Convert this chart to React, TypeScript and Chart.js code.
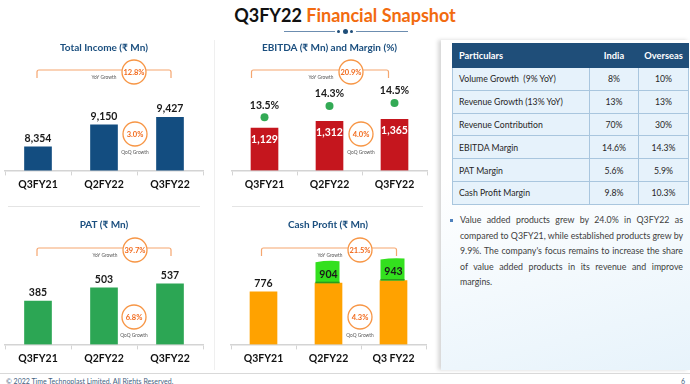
import React, { useEffect, useRef } from "react";
import { Chart, registerables } from "chart.js";
Chart.register(...registerables);

const categories = ["Q3FY21", "Q2FY22", "Q3FY22"];
const cashCategories = ["Q3FY21", "Q2FY22", "Q3 FY22"];
const totalIncome = [8354, 9150, 9427];
const ebitda = [1129, 1312, 1365];
const ebitdaMargin = [13.5, 14.3, 14.5];
const pat = [385, 503, 537];
const cashProfit = [776, 904, 943];
const yoyGrowth = ["12.8%", "20.9%", "39.7%", "21.5%"];
const qoqGrowth = ["3.0%", "4.0%", "6.8%", "4.3%"];
const panelTitles = ["Total Income (₹ Mn)", "EBITDA (₹ Mn) and Margin (%)", "PAT (₹ Mn)", "Cash Profit (₹ Mn)"];
const tableHeader = ["Particulars", "India", "Overseas"];
const tableParticulars = ["Volume Growth  (9% YoY)", "Revenue Growth (13% YoY)", "Revenue Contribution", "EBITDA Margin", "PAT Margin", "Cash Profit Margin"];
const tableIndia = ["8%", "13%", "70%", "14.6%", "5.6%", "9.8%"];
const tableOverseas = ["10%", "13%", "30%", "14.3%", "5.9%", "10.3%"];
const bulletLines = [
  "Value added products grew by 24.0% in Q3FY22 as",
  "compared to Q3FY21, while established products grew by",
  "9.9%. The company's focus remains to increase the share",
  "of value added products in its revenue and improve",
  "margins.",
];

const FONT = "Lato, 'Noto Sans', 'DejaVu Sans', sans-serif";

type PanelCfg = {
  labels: string[];
  values: number[];
  color: string;
  min: number;
  max: number;
  left: number;
  top: number;
  width: number;
  height: number;
  pad: { left: number; right: number; top: number; bottom: number };
  yoy: string;
  qoq: string;
  bracketDy: number;
  dxL: number;
  dxR: number;
  yoyDx: number;
  qoqDx: number;
  qoqDy: number;
  inside?: boolean;
  margin?: number[];
  highlight?: number[];
};

const annotPlugin = {
  id: "annot",
  afterDatasetsDraw(chart: any, _args: any, opts: any) {
    const { ctx, chartArea } = chart;
    const xs = chart.scales.x;
    const meta = chart.getDatasetMeta(0);
    const values: number[] = chart.data.datasets[0].data;
    ctx.save();
    (opts.highlight || []).forEach((i: number) => {
      const bar = meta.data[i];
      const p = bar.getProps(["x", "y", "width"], true);
      const l = p.x - p.width / 2 + 0.5;
      const w = p.width - 3;
      ctx.fillStyle = "#33e01e";
      ctx.beginPath();
      ctx.moveTo(l, p.y);
      ctx.lineTo(l, p.y - 21);
      ctx.quadraticCurveTo(l + w * 0.5, p.y - 23, l + w, p.y - 22);
      ctx.lineTo(l + w, p.y);
      ctx.closePath();
      ctx.fill();
      ctx.fillStyle = "#2a9a1e";
      ctx.fillRect(l, p.y - 1.5, w, 1.5);
    });
    ctx.textAlign = "center";
    ctx.textBaseline = "middle";
    ctx.font = `bold 10.5px ${FONT}`;
    meta.data.forEach((bar: any, i: number) => {
      const p = bar.getProps(["x", "y"], true);
      const txt = values[i].toLocaleString("en-US");
      if (opts.inside) {
        ctx.fillStyle = "#ffffff";
        ctx.fillText(txt, p.x, p.y + 11);
      } else {
        ctx.fillStyle = "#1a1a1a";
        ctx.fillText(txt, p.x, p.y - 8.5);
      }
    });
    if (opts.margin) {
      const m = chart.getDatasetMeta(1);
      const mv: number[] = chart.data.datasets[1].data;
      ctx.fillStyle = "#1a1a1a";
      m.data.forEach((pt: any, i: number) => {
        const p = pt.getProps(["x", "y"], true);
        ctx.fillText(mv[i].toFixed(1) + "%", p.x, p.y - 12);
      });
    }
    const c0 = xs.getPixelForValue(0);
    const c1 = xs.getPixelForValue(1);
    const c2 = xs.getPixelForValue(2);
    const by = chartArea.top + opts.bracketDy;
    const xL = c0 + opts.dxL;
    const xR = c2 + opts.dxR;
    ctx.strokeStyle = "#f5a66f";
    ctx.lineWidth = 1.2;
    ctx.beginPath();
    ctx.moveTo(xL, by + 8);
    ctx.lineTo(xL, by + 2);
    ctx.quadraticCurveTo(xL, by, xL + 2, by);
    ctx.lineTo(xR - 2, by);
    ctx.quadraticCurveTo(xR, by, xR, by + 2);
    ctx.lineTo(xR, by + 8);
    ctx.stroke();
    const mid = (c1 + c2) / 2;
    const drawCircle = (cx: number, cy: number, txt: string) => {
      ctx.beginPath();
      ctx.arc(cx, cy, 12, 0, Math.PI * 2);
      ctx.fillStyle = "#ffffff";
      ctx.fill();
      ctx.strokeStyle = "#f79646";
      ctx.lineWidth = 1.3;
      ctx.stroke();
      ctx.fillStyle = "#f26b1d";
      ctx.font = `bold 7.5px ${FONT}`;
      ctx.fillText(txt, cx, cy + 0.5);
    };
    const yx = mid + opts.yoyDx;
    drawCircle(yx, by + 2, opts.yoy);
    ctx.fillStyle = "#555555";
    ctx.font = `4.8px ${FONT}`;
    ctx.fillText("YoY Growth", yx - 30, by + 7);
    const qx = mid + opts.qoqDx;
    const qy = chartArea.top + opts.qoqDy;
    drawCircle(qx, qy, opts.qoq);
    ctx.fillStyle = "#555555";
    ctx.font = `4.8px ${FONT}`;
    ctx.fillText("QoQ Growth", qx, qy + 18);
    ctx.restore();
  },
};

function BarPanel({ cfg }: { cfg: PanelCfg }) {
  const ref = useRef<HTMLCanvasElement | null>(null);
  useEffect(() => {
    if (!ref.current) return;
    const datasets: any[] = [
      {
        type: "bar",
        data: cfg.values,
        backgroundColor: cfg.color,
        barThickness: 27,
        yAxisID: "y",
        order: 2,
      },
    ];
    const scales: any = {
      x: {
        grid: { drawOnChartArea: false, drawTicks: true, tickLength: 5, color: "#d4d4d4", offset: true },
        border: { display: true, color: "#d4d4d4", width: 1.5 },
        ticks: { color: "#111111", font: { family: FONT, weight: "bold", size: 10.5 }, padding: 3 },
      },
      y: { display: false, min: cfg.min, max: cfg.max },
    };
    if (cfg.margin) {
      datasets.push({
        type: "line",
        data: cfg.margin,
        showLine: false,
        pointRadius: 4,
        pointBackgroundColor: "#33aa55",
        pointBorderWidth: 0,
        yAxisID: "y2",
        order: 1,
      });
      scales.y2 = { display: false, min: 9.8, max: 17.5 };
    }
    const chart = new Chart(ref.current, {
      type: "bar",
      data: { labels: cfg.labels, datasets },
      options: {
        responsive: false,
        animation: false,
        layout: { padding: cfg.pad },
        plugins: {
          legend: { display: false },
          tooltip: { enabled: false },
          annot: {
            inside: cfg.inside,
            margin: !!cfg.margin,
            highlight: cfg.highlight,
            yoy: cfg.yoy,
            qoq: cfg.qoq,
            bracketDy: cfg.bracketDy,
            dxL: cfg.dxL,
            dxR: cfg.dxR,
            yoyDx: cfg.yoyDx,
            qoqDx: cfg.qoqDx,
            qoqDy: cfg.qoqDy,
          },
        } as any,
        scales,
      },
      plugins: [annotPlugin],
    } as any);
    return () => chart.destroy();
  }, []);
  return (
    <canvas
      ref={ref}
      width={cfg.width}
      height={cfg.height}
      style={{ position: "absolute", left: cfg.left, top: cfg.top, width: cfg.width, height: cfg.height }}
    />
  );
}

const panels: PanelCfg[] = [
  {
    labels: categories, values: totalIncome, color: "#134d80", min: 7500, max: 11500,
    left: 0, top: 52, width: 215, height: 146, pad: { left: 5, right: 12, top: 8, bottom: 4 },
    yoy: yoyGrowth[0], qoq: qoqGrowth[0], bracketDy: 10, dxL: -1, dxR: 1, yoyDx: -3, qoqDx: -2, qoqDy: 74,
  },
  {
    labels: categories, values: ebitda, color: "#c5161e", min: 0, max: 2950,
    left: 215, top: 52, width: 217, height: 146, pad: { left: 17, right: 5, top: 8, bottom: 4 },
    yoy: yoyGrowth[1], qoq: qoqGrowth[1], bracketDy: 10, dxL: -13, dxR: -6, yoyDx: -11, qoqDx: -1, qoqDy: 74,
    inside: true, margin: ebitdaMargin,
  },
  {
    labels: categories, values: pat, color: "#2ca654", min: 0, max: 980,
    left: 0, top: 226, width: 215, height: 146, pad: { left: 5, right: 12, top: 8, bottom: 4 },
    yoy: yoyGrowth[2], qoq: qoqGrowth[2], bracketDy: 14, dxL: -1, dxR: 1, yoyDx: -2, qoqDx: -3, qoqDy: 83,
  },
  {
    labels: cashCategories, values: cashProfit, color: "#ffa200", min: 0, max: 1630,
    left: 215, top: 226, width: 217, height: 146, pad: { left: 16, right: 6, top: 8, bottom: 4 },
    yoy: yoyGrowth[3], qoq: qoqGrowth[3], bracketDy: 14, dxL: -2, dxR: 3, yoyDx: -1, qoqDx: -1, qoqDy: 83,
    highlight: [1, 2],
  },
];

const titlePos = [
  { left: 5, width: 198, top: 41 },
  { left: 232, width: 195, top: 41 },
  { left: 5, width: 198, top: 218 },
  { left: 231, width: 194, top: 218 },
];

export default function App() {
  useEffect(() => {
    document.body.style.margin = "0";
  }, []);
  const abs = (s: React.CSSProperties): React.CSSProperties => ({ position: "absolute", ...s });
  return (
    <div style={{ position: "fixed", left: 0, top: 0, width: 690, height: 384, overflow: "hidden", background: "#ffffff", fontFamily: FONT }}>
      <div style={abs({ left: 0, top: 3, width: 690, textAlign: "center", fontSize: 18, fontWeight: 700, lineHeight: "24px" })}>
        <span style={{ color: "#111111" }}>Q3FY22 </span>
        <span style={{ color: "#f26b0f" }}>Financial Snapshot</span>
      </div>
      <div style={abs({ left: 284, top: 31, width: 51, height: 1, background: "#6c8db0" })} />
      <div style={abs({ left: 356, top: 31, width: 52, height: 1, background: "#6c8db0" })} />
      <div style={abs({ left: 337, top: 30, width: 3, height: 3, borderRadius: 2, background: "#1f4e79" })} />
      <div style={abs({ left: 342.5, top: 28.5, width: 5, height: 5, borderRadius: 3, background: "#1f4e79" })} />
      <div style={abs({ left: 350, top: 30, width: 3, height: 3, borderRadius: 2, background: "#1f4e79" })} />

      <div style={abs({ left: 214, top: 40, width: 1, height: 330, background: "#efefef" })} />
      <div style={abs({ left: 8, top: 206, width: 192, height: 1, background: "#e4e4e4" })} />
      <div style={abs({ left: 232, top: 206, width: 191, height: 1, background: "#e4e4e4" })} />

      {panels.map((p, i) => (
        <BarPanel key={i} cfg={p} />
      ))}
      {panelTitles.map((t, i) => (
        <div key={t} style={abs({ left: titlePos[i].left, top: titlePos[i].top, width: titlePos[i].width, textAlign: "center", fontSize: 10, fontWeight: 700, color: "#1b4f7f", lineHeight: "12px", whiteSpace: "nowrap" })}>
          {t}
        </div>
      ))}

      <div style={abs({ left: 441, top: 40, width: 249, height: 330, background: "linear-gradient(165deg, #ffffff 35%, #e7f3fb 100%)", boxShadow: "-3px 0 4px rgba(0,0,0,0.16)" })} />
      <table style={abs({ left: 452, top: 43, width: 236, borderCollapse: "collapse", fontSize: 8.7, color: "#262626", tableLayout: "fixed" })}>
        <colgroup>
          <col style={{ width: 137 }} />
          <col style={{ width: 49 }} />
          <col style={{ width: 50 }} />
        </colgroup>
        <thead>
          <tr style={{ height: 24, background: "#1f4e79", color: "#ffffff", fontWeight: 700, fontSize: 9.3 }}>
            <td style={{ paddingLeft: 6, border: "1px solid #1f4e79" }}>{tableHeader[0]}</td>
            <td style={{ textAlign: "center", border: "1px solid #1f4e79" }}>{tableHeader[1]}</td>
            <td style={{ textAlign: "center", border: "1px solid #1f4e79" }}>{tableHeader[2]}</td>
          </tr>
        </thead>
        <tbody>
          {tableParticulars.map((r, i) => (
            <tr key={r} style={{ height: 22.8, background: "#e6f2fb" }}>
              <td style={{ paddingLeft: 6, border: "1px solid #a9c6de", whiteSpace: "pre" }}>{r}</td>
              <td style={{ textAlign: "center", border: "1px solid #a9c6de" }}>{tableIndia[i]}</td>
              <td style={{ textAlign: "center", border: "1px solid #a9c6de" }}>{tableOverseas[i]}</td>
            </tr>
          ))}
        </tbody>
      </table>

      <div style={abs({ left: 450, top: 218.5, width: 3, height: 3, background: "#4f81bd" })} />
      <div style={abs({ left: 460, top: 212, width: 223, fontSize: 8.8, color: "#404040" })}>
        {bulletLines.map((l, i) => (
          <div key={i} style={{ height: 15.6, lineHeight: "15.6px", textAlign: "justify", textAlignLast: i < bulletLines.length - 1 ? "justify" : "left", whiteSpace: "nowrap" } as any}>
            {l}
          </div>
        ))}
      </div>

      <div style={abs({ left: 0, top: 373, width: 690, height: 1, background: "#d9d9d9" })} />
      <div style={abs({ left: 6, top: 377, fontSize: 7, color: "#44627f", lineHeight: "8px" })}>
        © 2022 Time Technoplast Limited, All Rights Reserved.
      </div>
      <div style={abs({ left: 681, top: 377, fontSize: 7, color: "#44627f", lineHeight: "8px" })}>6</div>
    </div>
  );
}
